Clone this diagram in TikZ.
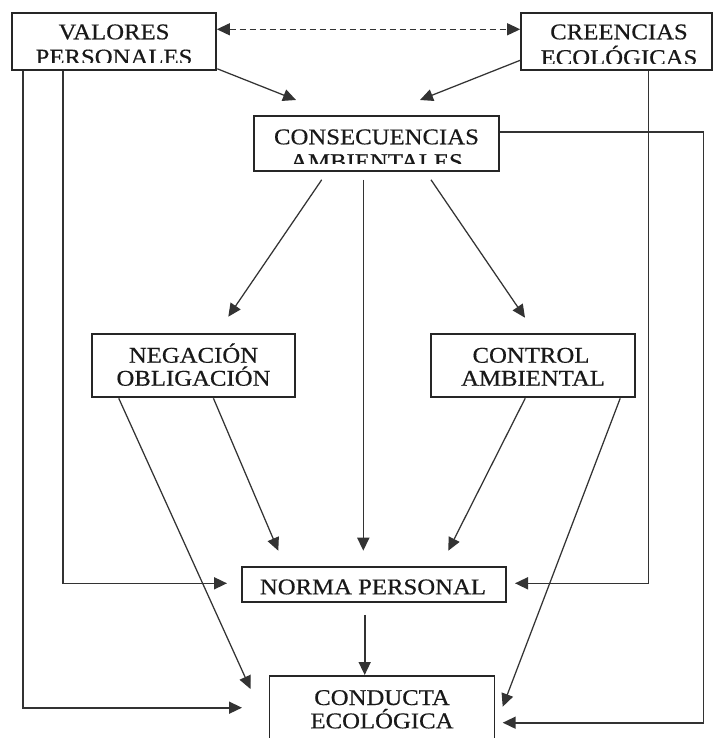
\documentclass[tikz,border=0pt]{standalone}
\usepackage{fontspec}
\setmainfont{Liberation Serif}[FakeStretch=1.1,FakeBold=0.5]
\usetikzlibrary{arrows.meta,calc}
\begin{document}
\begin{tikzpicture}[x=1pt,y=-1pt,
  box/.style={draw=black!85,line width=1.6pt,inner sep=0pt,fill=none},
  lbl/.style={anchor=base,inner sep=0pt,font=\fontsize{22.5}{25}\selectfont,text=black!90},
  conn/.style={draw=black!80,line width=1.25pt,-{Triangle[length=13pt,width=12pt]}},
  vline/.style={draw=black!80,line width=1.6pt,-{Triangle[length=13pt,width=12pt]}},
  dash2/.style={draw=black!80,line width=1.2pt,dash pattern=on 6pt off 4pt,{Triangle[length=13pt,width=12pt]}-{Triangle[length=13pt,width=12pt]}}]
\clip (0,0) rectangle (713,738);
\fill[white] (0,0) rectangle (713,738);
% boxes
\node[box,minimum width=204pt,minimum height=57pt] (val) at (114,41.5) {};
\node[box,minimum width=191pt,minimum height=57pt] (cre) at (616.5,41.5) {};
\node[box,minimum width=245pt,minimum height=55pt] (con) at (376.5,143.5) {};
\node[box,minimum width=203.5pt,minimum height=63pt] (neg) at (193.5,365.5) {};
\node[box,minimum width=204pt,minimum height=63pt] (ctl) at (533,365.5) {};
\node[box,minimum width=264.5pt,minimum height=34.5pt] (nor) at (374,584.5) {};
\node[box,minimum width=225pt,minimum height=72pt] (cdt) at (382,712) {};
% texts (top boxes clipped as in the picture)
\begin{scope}
\clip (12,13) rectangle (216,63);
\node[lbl] (valt1) at (114,39.3) {VALORES};
\node[lbl] (valt2) at (114,64.5) {PERSONALES};
\end{scope}
\begin{scope}
\clip (521,13) rectangle (712,63.5);
\node[lbl] (cret1) at (619,39.3) {CREENCIAS};
\node[lbl] (cret2) at (619,65) {ECOLÓGICAS};
\end{scope}
\begin{scope}
\clip (254,116) rectangle (499,164);
\node[lbl] (cont1) at (376.5,144.3) {CONSECUENCIAS};
\node[lbl] (cont2) at (376.5,169) {AMBIENTALES};
\end{scope}
\node[lbl] (negt1) at (193.5,362.7) {NEGACIÓN};
\node[lbl] (negt2) at (193.5,385.7) {OBLIGACIÓN};
\node[lbl] (ctlt1) at (531,362.7) {CONTROL};
\node[lbl] (ctlt2) at (533,385.7) {AMBIENTAL};
\node[lbl] (nort) at (373,594.3) {NORMA PERSONAL};
\node[lbl] (cdtt1) at (382,705) {CONDUCTA};
\node[lbl] (cdtt2) at (382,728.3) {ECOLÓGICA};
% free ends of connectors
\coordinate (t1) at (296,100);
\coordinate (t2) at (420,100);
\coordinate (tneg) at (228.3,316.7);
\coordinate (tctl) at (525,317.7);
\coordinate (tn1) at (278.3,550.7);
\coordinate (tn2) at (363.3,550.7);
\coordinate (tn3) at (448.3,550.7);
\coordinate (tnl) at (227,583.3);
\coordinate (tnr) at (515,583.3);
\coordinate (tc1) at (250.5,689);
\coordinate (tc2) at (502.7,706.7);
\coordinate (tcl) at (242,707.7);
\coordinate (tcr) at (502.7,722.7);
\coordinate (tct) at (364.7,675);
% connectors
\draw[dash2] ($(val.east)+(0,-12.2)$) -- ($(cre.west)+(0,-12.2)$);
\draw[conn] ($(val.south east)+(0.5,-2)$) -- (t1);
\draw[conn] ($(cre.south west)+(0,-10.5)$) -- (t2);
\draw[conn] ($(con.south)+(-54.8,8)$) -- (tneg);
\draw[vline] ($(con.south)+(-13.2,8)$) -- (tn2);
\draw[conn] ($(con.south)+(54.5,8)$) -- (tctl);
\draw[conn] ($(neg.south west)+(27.8,0.5)$) -- (tc1);
\draw[conn] ($(neg.south west)+(122.5,0.5)$) -- (tn1);
\draw[conn] ($(ctl.south west)+(95,0.5)$) -- (tn3);
\draw[conn] ($(ctl.south west)+(190,0.5)$) -- (tc2);
\draw[vline] ($(nor.south)+(-9.3,12.3)$) -- (tct);
\draw[vline] ($(val.south west)+(11.8,0)$) |- (tcl);
\draw[vline] ($(val.south west)+(52,0)$) |- (tnl);
\draw[vline] ($(cre.south)+(31.8,0)$) |- (tnr);
\draw[vline] ($(con.east)+(0,-11.5)$) -- (703.3,132) |- (tcr);
\end{tikzpicture}
\end{document}
